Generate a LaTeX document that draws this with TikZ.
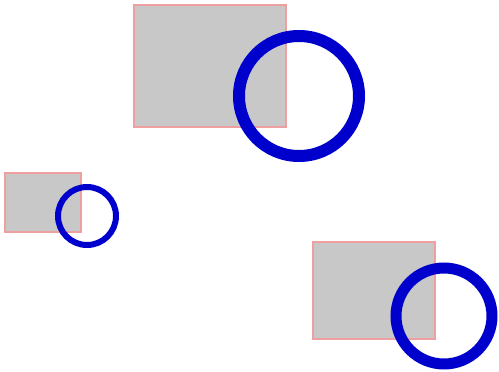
\documentclass[tikz,border=0pt]{standalone}
\usepackage{xcolor}
\usepackage{tikz}
\definecolor{boxgray}{RGB}{200,200,200}
\definecolor{boxedge}{RGB}{238,160,160}
\definecolor{ringblue}{RGB}{0,0,205}

\begin{document}
\begin{tikzpicture}[x=1pt, y=-1pt,
  box/.style={fill=boxgray, draw=boxedge, line width=2pt},
  ring/.style={draw=ringblue}]
\useasboundingbox (0,0) rectangle (499,372);
\draw [box] (134,5) rectangle (286,127);
\draw [box] (5,173) rectangle (81,232);
\draw [box] (313,242) rectangle (435,339);

\draw [ring, line width=12pt] (299,96) circle (60);
\draw [ring, line width=6pt] (87,216) circle (29);
\draw [ring, line width=11pt] (444,316) circle (48);
\end{tikzpicture}
\end{document}
